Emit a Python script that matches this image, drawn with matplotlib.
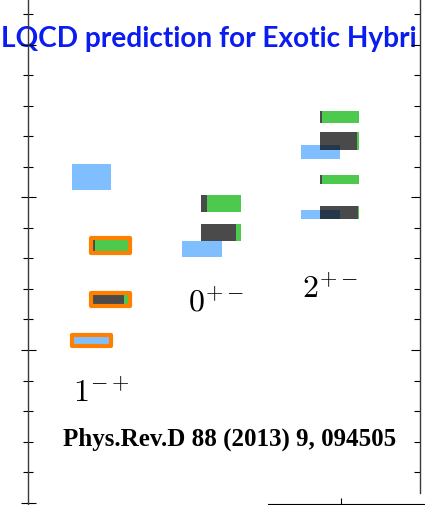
import numpy as np
import matplotlib
matplotlib.use("Agg")
import matplotlib.pyplot as plt
from matplotlib.patches import Rectangle
from matplotlib.ticker import MultipleLocator, FixedLocator
from matplotlib.colors import to_rgb

plt.rcParams["mathtext.fontset"] = "cm"

# exotic J^PC channels
channels = ["1^{-+}", "0^{+-}", "2^{+-}"]

# isovector states: channel, mass and uncertainty (GeV)
iv_chan = [0, 0, 1, 2, 2]
iv_mass = [2.567, 2.031, 2.331, 2.648, 2.443]
iv_err = [0.042, 0.018, 0.026, 0.023, 0.015]
iv_lightest = [False, True, False, False, False]

# isoscalar states: channel, mass, uncertainty, s-sbar fraction
is_chan = [0, 0, 1, 1, 2, 2, 2, 2]
is_mass = [2.342, 2.165, 2.479, 2.384, 2.763, 2.685, 2.558, 2.451]
is_err = [0.025, 0.021, 0.027, 0.027, 0.021, 0.030, 0.015, 0.022]
is_ss = [0.12, 0.85, 0.13, 0.87, 0.06, 0.95, 0.04, 0.96]
is_lightest = [True, True, False, False, False, False, False, False]

# layout
col_x = [0.84, 1.97, 3.18]
iv_shift = -0.195
box_w = 0.4
label_x = [0.75, 1.92, 3.085]
label_y = [1.83, 2.125, 2.17]
y_lo, y_hi = 1.4925, 3.146
right_lo = 1.532

c_iv = "#80BFFF"
c_light = "#4DC94D"
c_strange = "#4A4A4A"
c_hl = "#FF8000"

W, H = 425, 505
fig = plt.figure(figsize=(W / 100, H / 100), dpi=100)
ax = fig.add_axes([28 / W, 0, 392 / W, 1])
ax.set_xlim(0, 4)
ax.set_ylim(y_lo, y_hi)
ax.patch.set_alpha(0)
for s in ["top", "bottom", "right"]:
    ax.spines[s].set_visible(False)
ax.spines["left"].set_color("#3a3a3a")
ax.spines["left"].set_linewidth(1.0)
ax.set_xticks([])
ax.yaxis.set_major_locator(MultipleLocator(0.5))
ax.yaxis.set_minor_locator(MultipleLocator(0.1))
ax.tick_params(axis="y", which="both", direction="inout", width=0.8,
               color="black", labelleft=False)
ax.tick_params(axis="y", which="major", length=10.8)
ax.tick_params(axis="y", which="minor", length=6.5)

# right frame stops short of the bottom
axr = ax.twinx()
axr.set_ylim(y_lo, y_hi)
axr.patch.set_alpha(0)
for s in ["top", "bottom", "left"]:
    axr.spines[s].set_visible(False)
axr.spines["right"].set_bounds(right_lo, y_hi)
axr.spines["right"].set_color("#3a3a3a")
axr.spines["right"].set_linewidth(1.0)
minor = np.round(np.arange(1.6, 3.15, 0.1), 2)
axr.yaxis.set_major_locator(FixedLocator([2.0, 2.5, 3.0]))
axr.yaxis.set_minor_locator(FixedLocator(minor))
axr.tick_params(axis="y", which="both", direction="in", width=0.8,
                labelright=False)
axr.tick_params(axis="y", which="major", length=6.5)
axr.tick_params(axis="y", which="minor", length=4)

# isovector boxes
iv_boxes = []
for c, m, e, hl in zip(iv_chan, iv_mass, iv_err, iv_lightest):
    x0 = col_x[c] + iv_shift - box_w / 2
    ax.add_patch(Rectangle((x0, m - e), box_w, 2 * e, facecolor=c_iv,
                           edgecolor="none", zorder=2))
    iv_boxes.append((c, x0, m - e, x0 + box_w, m + e))
    if hl:
        ax.add_patch(Rectangle((x0, m - e), box_w, 2 * e, facecolor="none",
                               edgecolor=c_hl, lw=3.0, joinstyle="round",
                               zorder=5))

# isoscalar boxes split into light (green) and strange (dark) content
for c, m, e, ss, hl in zip(is_chan, is_mass, is_err, is_ss, is_lightest):
    x0 = col_x[c] - box_w / 2
    parts = [(x0, x0 + box_w * ss, c_strange),
             (x0 + box_w * ss, x0 + box_w, c_light)]
    for a, b, col in parts:
        ax.add_patch(Rectangle((a, m - e), b - a, 2 * e, facecolor=col,
                               edgecolor="none", zorder=3))
        # where an isovector box lies underneath, blend the two colours
        for ci, bx0, by0, bx1, by1 in iv_boxes:
            if ci != c:
                continue
            ox0, ox1 = max(a, bx0), min(b, bx1)
            oy0, oy1 = max(m - e, by0), min(m + e, by1)
            if ox1 > ox0 and oy1 > oy0:
                rgb = tuple(np.array(to_rgb(c_iv)) * np.array(to_rgb(col)))
                ax.add_patch(Rectangle((ox0, oy0), ox1 - ox0, oy1 - oy0,
                                       facecolor=rgb, edgecolor="none",
                                       zorder=4))
    if hl:
        ax.add_patch(Rectangle((x0, m - e), box_w, 2 * e, facecolor="none",
                               edgecolor=c_hl, lw=3.0, joinstyle="round",
                               zorder=5))

for lab, lx, ly in zip(channels, label_x, label_y):
    ax.text(lx, ly, "$" + lab + "$", fontsize=23, ha="center",
            va="baseline", zorder=6)

fig.text(1 / W, 1 - 46.5 / H, "LQCD prediction for Exotic Hybri",
         color="#0B1CF0", fontsize=20.2, fontweight="bold",
         family="Lato", va="baseline", ha="left", zorder=-1)

fig.text(63 / W, 1 - 446 / H, "Phys.Rev.D 88 (2013) 9, 094505",
         family="Liberation Serif", fontweight="bold", fontsize=18,
         va="baseline", ha="left")

# edge of the neighbouring panel
axb = fig.add_axes([268 / W, 1 / H, 157 / W, 10 / H])
axb.patch.set_alpha(0)
for s in ["top", "left", "right"]:
    axb.spines[s].set_visible(False)
axb.spines["bottom"].set_linewidth(0.8)
axb.set_xlim(0, 1)
axb.set_xticks([0.465])
axb.set_yticks([])
axb.tick_params(axis="x", direction="in", length=4, width=0.8,
                labelbottom=False)

fig.savefig("out.png", dpi=100, facecolor="white")
